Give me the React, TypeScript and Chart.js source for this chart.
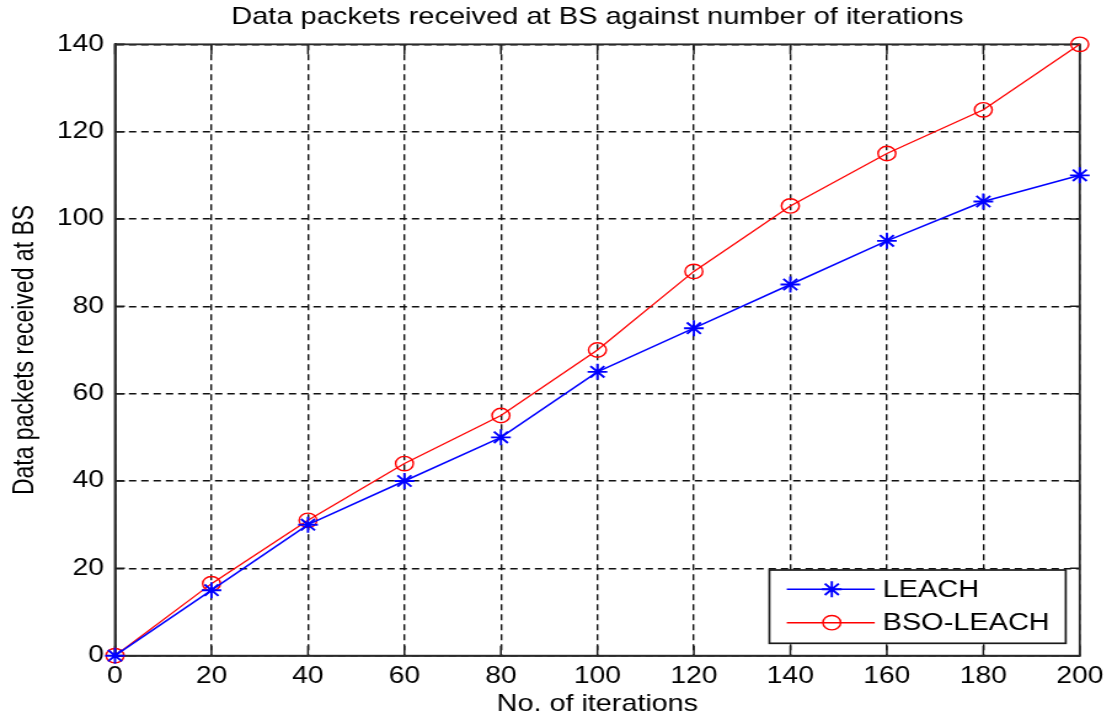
import React, { useEffect, useRef } from 'react';
import { Chart, registerables } from 'chart.js';

Chart.register(...registerables);

// ---- data ----
const iterations = [0, 20, 40, 60, 80, 100, 120, 140, 160, 180, 200];
const leach = [0, 15, 30, 40, 50, 65, 75, 85, 95, 104, 110];
const bsoLeach = [0, 16.5, 31, 44, 55, 70, 88, 103, 115, 125, 140];
const seriesLabels = ['LEACH', 'BSO-LEACH'];
const titleText = 'Data packets received at BS against number of iterations';
const xTitle = 'No. of iterations';
const yTitle = 'Data packets received at BS';
const xTicks = [0, 20, 40, 60, 80, 100, 120, 140, 160, 180, 200];
const yTicks = [0, 20, 40, 60, 80, 100, 120, 140];

// ---- layout ----
const W = 1112;
const H = 721;
const SX = 1.23; // horizontal stretch of the reference picture
const IW = Math.round(W / SX);
const FONT = "'Liberation Sans', Arial, sans-serif";
const FS = 23;

const framePlugin = {
  id: 'matlabFrame',
  beforeDatasetsDraw(chart: any) {
    const { ctx, chartArea } = chart;
    const { left, right, top, bottom } = chartArea;
    const xs = chart.scales.x;
    const ys = chart.scales.y;
    ctx.save();
    ctx.strokeStyle = '#1a1a1a';
    ctx.lineWidth = 1.5;
    ctx.setLineDash([]);
    ctx.beginPath();
    xTicks.forEach((v) => {
      const px = xs.getPixelForValue(v);
      ctx.moveTo(px, bottom);
      ctx.lineTo(px, bottom - 10);
      ctx.moveTo(px, top);
      ctx.lineTo(px, top + 10);
    });
    yTicks.forEach((v) => {
      const py = ys.getPixelForValue(v);
      ctx.moveTo(left, py);
      ctx.lineTo(left + 8, py);
      ctx.moveTo(right, py);
      ctx.lineTo(right - 8, py);
    });
    ctx.stroke();
    ctx.strokeStyle = '#2a2a2a';
    ctx.lineWidth = 1.8;
    ctx.strokeRect(left, top, right - left, bottom - top);
    ctx.restore();
  },
};

function drawStar(ctx: CanvasRenderingContext2D, x: number, y: number, r: number) {
  const d = r * Math.SQRT1_2;
  ctx.beginPath();
  ctx.moveTo(x - r, y);
  ctx.lineTo(x + r, y);
  ctx.moveTo(x, y - r);
  ctx.lineTo(x, y + r);
  ctx.moveTo(x - d, y - d);
  ctx.lineTo(x + d, y + d);
  ctx.moveTo(x - d, y + d);
  ctx.lineTo(x + d, y - d);
  ctx.stroke();
}

const legendPlugin = {
  id: 'boxLegend',
  afterDatasetsDraw(chart: any) {
    const { ctx, chartArea } = chart;
    const bx = chartArea.right - 252.3;
    const by = chartArea.bottom - 85.7;
    const bw = 240.9;
    const bh = 73.3;
    ctx.save();
    ctx.fillStyle = '#fff';
    ctx.fillRect(bx, by, bw, bh);
    ctx.strokeStyle = '#1a1a1a';
    ctx.lineWidth = 1.7;
    ctx.setLineDash([]);
    ctx.strokeRect(bx, by, bw, bh);
    const rows = [by + 19.3, by + 52.7];
    chart.data.datasets.forEach((ds: any, i: number) => {
      const y = rows[i];
      ctx.strokeStyle = ds.borderColor;
      ctx.lineWidth = 1.5;
      ctx.beginPath();
      ctx.moveTo(bx + 14.1, y);
      ctx.lineTo(bx + 85.6, y);
      ctx.stroke();
      const mx = bx + 50.7;
      ctx.lineWidth = ds.pointBorderWidth;
      if (ds.pointStyle === 'star') {
        drawStar(ctx, mx, y, ds.pointRadius);
      } else {
        ctx.beginPath();
        ctx.arc(mx, y, ds.pointRadius, 0, Math.PI * 2);
        ctx.stroke();
      }
      ctx.fillStyle = '#000';
      ctx.font = `${FS + 0.5}px ${FONT}`;
      ctx.textBaseline = 'middle';
      ctx.textAlign = 'left';
      ctx.fillText(ds.label, bx + 92, y + 1);
    });
    ctx.restore();
  },
};

export default function App() {
  const ref = useRef<HTMLCanvasElement>(null);

  useEffect(() => {
    const canvas = ref.current!;
    canvas.width = IW;
    canvas.height = H;
    canvas.style.width = W + 'px';
    canvas.style.height = H + 'px';
    const font = { family: FONT, size: FS, weight: 'normal' as const };
    const chart = new Chart(canvas, {
      type: 'line',
      data: {
        datasets: [
          {
            label: seriesLabels[0],
            data: iterations.map((x, i) => ({ x, y: leach[i] })),
            borderColor: '#0000ff',
            backgroundColor: '#0000ff',
            borderWidth: 1.5,
            pointStyle: 'star',
            pointRadius: 8,
            pointBorderWidth: 1.9,
            pointBorderColor: '#0000ff',
            pointBackgroundColor: '#0000ff',
            tension: 0,
            clip: false,
          },
          {
            label: seriesLabels[1],
            data: iterations.map((x, i) => ({ x, y: bsoLeach[i] })),
            borderColor: '#ff0000',
            backgroundColor: 'rgba(0,0,0,0)',
            borderWidth: 1.3,
            pointStyle: 'circle',
            pointRadius: 7.2,
            pointBorderWidth: 1.4,
            pointBorderColor: '#ff0000',
            pointBackgroundColor: 'rgba(0,0,0,0)',
            tension: 0,
            clip: false,
          },
        ],
      },
      options: {
        responsive: false,
        animation: false,
        devicePixelRatio: 1,
        events: [],
        layout: { padding: { left: 0, right: 23.5, top: 0, bottom: 0 } },
        plugins: {
          legend: { display: false },
          tooltip: { enabled: false },
          title: {
            display: true,
            text: titleText,
            fullSize: false,
            color: '#000',
            font: { ...font, size: 23.6 },
            padding: { top: 3, bottom: 13 },
          },
        },
        scales: {
          x: {
            type: 'linear',
            min: 0,
            max: 200,
            afterFit: (s: any) => {
              s.height = 65.3;
            },
            afterBuildTicks: (s: any) => {
              s.ticks = xTicks.map((v) => ({ value: v }));
            },
            ticks: { color: '#000', font, padding: 7, maxRotation: 0, autoSkip: false },
            grid: { color: '#111', lineWidth: 1.4, drawTicks: false },
            border: { display: true, color: '#2a2a2a', width: 1.8, dash: [6, 4] },
            title: { display: true, text: xTitle, color: '#000', font: { ...font, size: 23.4 }, padding: { top: 0, bottom: 2.2 } },
          },
          y: {
            type: 'linear',
            min: 0,
            max: 140,
            afterFit: (s: any) => {
              s.width = 93.5;
            },
            afterBuildTicks: (s: any) => {
              s.ticks = yTicks.map((v) => ({ value: v }));
            },
            ticks: { color: '#000', font, padding: 9, autoSkip: false },
            grid: { color: '#111', lineWidth: 1.4, drawTicks: false },
            border: { display: true, color: '#2a2a2a', width: 1.8, dash: [6, 4] },
            title: { display: true, text: yTitle, color: '#000', font, padding: { top: 6.9, bottom: 0 } },
          },
        },
      },
      plugins: [framePlugin, legendPlugin],
    } as any);
    return () => chart.destroy();
  }, []);

  return (
    <div style={{ position: 'absolute', left: 0, top: 0, width: W, height: H, background: '#fff' }}>
      <canvas ref={ref} width={IW} height={H} style={{ width: W, height: H, display: 'block' }} />
    </div>
  );
}
